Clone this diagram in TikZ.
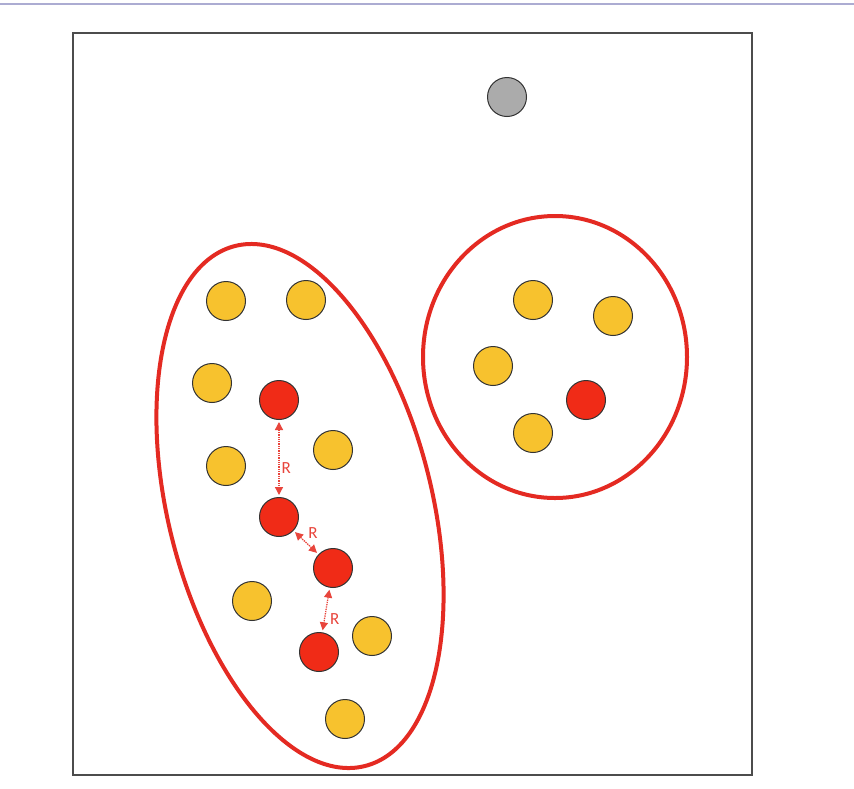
\documentclass[tikz,border=0pt]{standalone}
\usepackage{fontspec}
\setsansfont{Carlito}
\usetikzlibrary{arrows.meta}
\definecolor{dotY}{HTML}{F7C22E}
\definecolor{dotR}{HTML}{F02B17}
\definecolor{ringR}{HTML}{E42A22}
\definecolor{lblR}{HTML}{E8453C}
\begin{document}
\begin{tikzpicture}[x=1pt,y=-1pt,font=\sffamily\fontsize{17}{20}\selectfont,
  pt/.style={circle,draw=black!80,line width=1pt,minimum size=39pt,inner sep=0pt},
  yel/.style={pt,fill=dotY},
  red/.style={pt,fill=dotR},
  ring/.style={draw=ringR,line width=4pt},
  rarr/.style={{Triangle[length=8pt,width=8pt]}-{Triangle[length=8pt,width=8pt]},lblR,densely dotted,line width=1.3pt,shorten <=2pt,shorten >=2pt},
  rlbl/.style={text=lblR,inner sep=2pt}]
  \useasboundingbox (0,0) rectangle (854,788);
  \fill[white] (0,0) rectangle (854,788);
  \draw[blue!30!gray!50,line width=1.2pt] (0,4) -- (854,4);
  \draw[black!70,line width=1.4pt] (73,33) rectangle (752,775);
  % clusters
  \draw[ring,rotate around={14:(300,506)}] (300,506) ellipse [x radius=132,y radius=268];
  \draw[ring] (555,357) ellipse [x radius=132,y radius=141];
  % noise
  \node[pt,fill=black!33] (g1) at (507,97) {};
  % left cluster
  \node[yel] (y1) at (226,301) {};
  \node[yel] (y2) at (306,300) {};
  \node[yel] (y3) at (212,383) {};
  \node[yel] (y4) at (226,466) {};
  \node[yel] (y5) at (333,450) {};
  \node[yel] (y6) at (252,601) {};
  \node[yel] (y7) at (372,636) {};
  \node[yel] (y8) at (345,719) {};
  \node[red] (r1) at (279,400) {};
  \node[red] (r2) at (279,517) {};
  \node[red] (r3) at (333,568) {};
  \node[red] (r4) at (319,652) {};
  % right cluster
  \node[yel] (y9) at (533,300) {};
  \node[yel] (y10) at (613,316) {};
  \node[yel] (y11) at (493,366) {};
  \node[yel] (y12) at (533,433) {};
  \node[red] (r5) at (586,400) {};
  % reach distances
  \draw[rarr] (r1) -- node[rlbl,right,pos=0.62]{R} (r2);
  \draw[rarr] (r2) -- node[rlbl,above right,pos=0.45,xshift=1pt]{R} (r3);
  \draw[rarr] (r3) -- node[rlbl,right,pos=0.7,xshift=3pt]{R} (r4);
\end{tikzpicture}
\end{document}
